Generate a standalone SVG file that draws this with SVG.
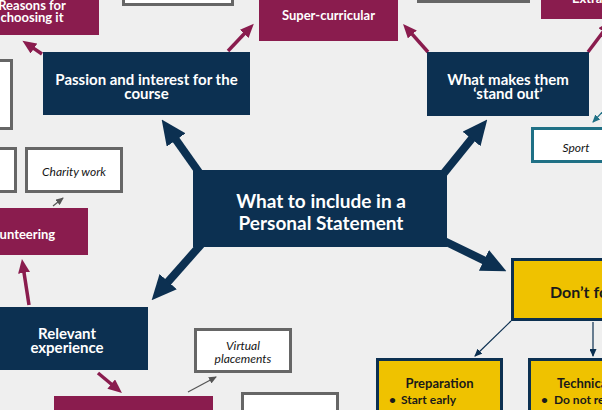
<svg xmlns="http://www.w3.org/2000/svg" width="602" height="410" viewBox="0 0 602 410">
<defs>
<style>
.navy{fill:#0c3051}
.maroon{fill:#8a1c4e}
.white{fill:#ffffff;stroke:#666666;stroke-width:3}
.teal{fill:#ffffff;stroke:#1f7085;stroke-width:3}
.yellow{fill:#efc200;stroke:#0c3051;stroke-width:3}
.tw{font-family:Lato,"Liberation Sans",sans-serif;font-weight:700;fill:#ffffff;text-anchor:middle}
.ti{font-family:Lato,"Liberation Sans",sans-serif;font-style:italic;fill:#151515;text-anchor:middle;font-size:12px}
.tk{font-family:Lato,"Liberation Sans",sans-serif;font-weight:700;fill:#1a1a1a}
.big{stroke:#0c3051;stroke-width:8;fill:none}
.mar{stroke:#8a1c4e;stroke-width:3.5;fill:none}
.thin{stroke:#555555;stroke-width:1.2;fill:none}
.thinn{stroke:#0c3051;stroke-width:1.2;fill:none}
.thint{stroke:#1f7085;stroke-width:1.2;fill:none}
</style>
<marker id="hb" markerUnits="userSpaceOnUse" markerWidth="25" markerHeight="23" viewBox="0 0 25 23" refX="12.5" refY="11.5" orient="auto"><path d="M0,0 L25,11.5 L0,23 z" fill="#0c3051"/></marker>
<marker id="hm" markerUnits="userSpaceOnUse" markerWidth="14" markerHeight="12" viewBox="0 0 14 12" refX="7" refY="6" orient="auto"><path d="M0,0 L14,6 L0,12 z" fill="#8a1c4e"/></marker>
<marker id="hg" markerUnits="userSpaceOnUse" markerWidth="8" markerHeight="7" viewBox="0 0 8 7" refX="7" refY="3.5" orient="auto"><path d="M0,0 L8,3.5 L0,7 z" fill="#555555"/></marker>
<marker id="hn" markerUnits="userSpaceOnUse" markerWidth="8" markerHeight="7" viewBox="0 0 8 7" refX="7" refY="3.5" orient="auto"><path d="M0,0 L8,3.5 L0,7 z" fill="#0c3051"/></marker>
<marker id="ht" markerUnits="userSpaceOnUse" markerWidth="8" markerHeight="7" viewBox="0 0 8 7" refX="7" refY="3.5" orient="auto"><path d="M0,0 L8,3.5 L0,7 z" fill="#1f7085"/></marker>
</defs>
<rect x="0" y="0" width="602" height="410" fill="#efefef"/>
<g id="connectors">
<line class="big" x1="203" y1="178" x2="168.9" y2="129.8" marker-end="url(#hb)"/>
<line class="big" x1="440" y1="178" x2="479.4" y2="129.3" marker-end="url(#hb)"/>
<line class="big" x1="205" y1="240" x2="159.9" y2="291" marker-end="url(#hb)"/>
<line class="big" x1="436" y1="237" x2="495.2" y2="265.8" marker-end="url(#hb)"/>
<line class="mar" x1="42" y1="54" x2="28.2" y2="44.6" marker-end="url(#hm)"/>
<line class="mar" x1="228" y1="51" x2="249" y2="28.8" marker-end="url(#hm)"/>
<line class="mar" x1="428" y1="52" x2="407.7" y2="29.2" marker-end="url(#hm)"/>
<line class="mar" x1="588" y1="52" x2="607.5" y2="26" marker-end="url(#hm)"/>
<line class="mar" x1="29" y1="305" x2="23" y2="265.9" marker-end="url(#hm)"/>
<line class="mar" x1="98" y1="373" x2="116.6" y2="388.5" marker-end="url(#hm)"/>
<line class="thin" x1="53" y1="206" x2="63" y2="198" marker-end="url(#hg)"/>
<line class="thin" x1="188" y1="392" x2="216" y2="377" marker-end="url(#hg)"/>
<line class="thint" x1="610" y1="104" x2="593" y2="122" marker-end="url(#ht)"/>
<line class="thinn" x1="511" y1="321" x2="475" y2="356" marker-end="url(#hn)"/>
<line class="thinn" x1="593" y1="322" x2="593" y2="356" marker-end="url(#hn)"/>
</g>
<g id="central">
<rect class="navy" x="193" y="170" width="254" height="77"/>
<text class="tw" font-size="19" x="321" y="207.5">What to include in a</text>
<text class="tw" font-size="19" x="321" y="229.5">Personal Statement</text>
</g>
<g id="passion">
<rect class="navy" x="43" y="52" width="207" height="63"/>
<text class="tw" font-size="15" x="146.5" y="84.5">Passion and interest for the</text>
<text class="tw" font-size="15" x="146.5" y="98.5">course</text>
</g>
<g id="standout">
<rect class="navy" x="427" y="52" width="162" height="64"/>
<text class="tw" font-size="15" x="508" y="84.5">What makes them</text>
<text class="tw" font-size="15" x="508" y="98.5">‘stand out’</text>
</g>
<g id="relevant">
<rect class="navy" x="-14" y="307" width="162" height="63"/>
<text class="tw" font-size="15" x="67" y="338.5">Relevant</text>
<text class="tw" font-size="15" x="67" y="352.5">experience</text>
</g>
<g id="reasons">
<rect class="maroon" x="-40" y="-30" width="139" height="65"/>
<text class="tw" font-size="13" x="32" y="10">Reasons for</text>
<text class="tw" font-size="13" x="32" y="22">choosing it</text>
</g>
<g id="super">
<rect class="maroon" x="259" y="-10" width="139" height="51"/>
<text class="tw" font-size="13" x="328.5" y="20">Super-curricular</text>
</g>
<g id="extra">
<rect class="maroon" x="541" y="-30" width="149" height="49"/>
<text class="tw" font-size="13" x="572" y="3" text-anchor="start" style="text-anchor:start">Extra-curricular</text>
</g>
<g id="volunteering">
<rect class="maroon" x="-50" y="208" width="138" height="47"/>
<text class="tw" font-size="13" x="18" y="238.5">Volunteering</text>
</g>
<g id="bottom-maroon">
<rect class="maroon" x="54" y="396" width="159" height="44"/>
</g>
<g id="top-box-1"><rect class="white" x="123.5" y="-40" width="109" height="44.5"/></g>
<g id="top-box-2"><rect class="white" x="418.5" y="-40" width="110" height="41.5"/></g>
<g id="left-box-1"><rect class="white" x="-40" y="60.5" width="51.5" height="68"/></g>
<g id="left-box-2"><rect class="white" x="-20" y="148.5" width="35.5" height="43"/></g>
<g id="charity">
<rect class="white" x="26.5" y="148.5" width="95" height="43"/>
<text class="ti" x="74" y="176">Charity work</text>
</g>
<g id="virtual">
<rect class="white" x="195.5" y="329.5" width="95" height="42"/>
<text class="ti" x="243" y="350">Virtual</text>
<text class="ti" x="243" y="362.5">placements</text>
</g>
<g id="bottom-box"><rect class="white" x="242.5" y="393.5" width="95" height="40"/></g>
<g id="sport">
<rect class="teal" x="532.5" y="128.5" width="100" height="33"/>
<text class="ti" x="576" y="151.5">Sport</text>
</g>
<g id="dontforget">
<rect class="yellow" x="512.5" y="259.5" width="160" height="60"/>
<text class="tk" font-size="16" x="550" y="297.5">Don’t forget</text>
</g>
<g id="preparation">
<rect class="yellow" x="377.5" y="359.5" width="124" height="80"/>
<text class="tk" font-size="13" x="439.5" y="387.5" text-anchor="middle">Preparation</text>
<text class="tk" font-size="12" x="389" y="404">•</text>
<text class="tk" font-size="12" x="401" y="404">Start early</text>
</g>
<g id="technical">
<rect class="yellow" x="529.5" y="359.5" width="120" height="80"/>
<text class="tk" font-size="13" x="557" y="387.5">Technical</text>
<text class="tk" font-size="12" x="541" y="404">•</text>
<text class="tk" font-size="12" x="554" y="404">Do not refer</text>
</g>
</svg>
